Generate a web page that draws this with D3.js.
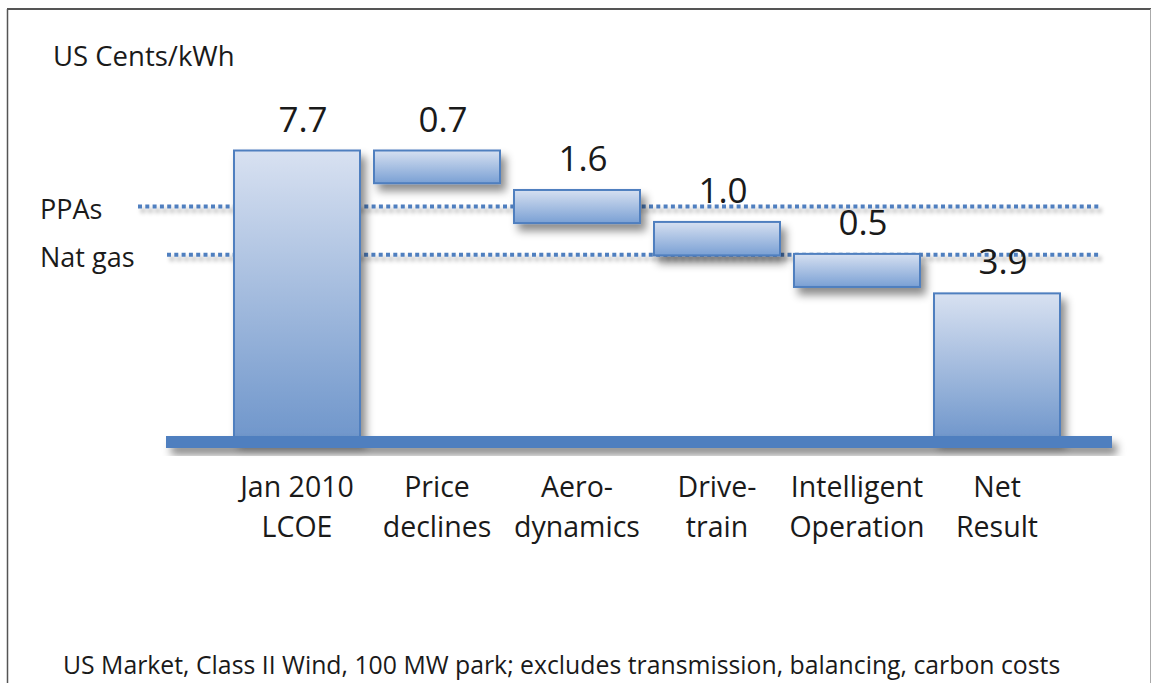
<!DOCTYPE html>
<html>
<head>
<meta charset="utf-8">
<script src="https://cdn.jsdelivr.net/npm/d3@7"></script>
<style>
  body { margin: 0; background: #fff; }
  text { font-family: "Open Sans", "Noto Sans", sans-serif; fill: #1a1a1a; }
</style>
</head>
<body>
<div id="chart"></div>
<script>
// categories (two-line labels)
var categories = ["Jan 2010\nLCOE", "Price\ndeclines", "Aero-\ndynamics", "Drive-\ntrain", "Intelligent\nOperation", "Net\nResult"];
// value labels printed over each bar
var valueLabels = ["7.7", "0.7", "1.6", "1.0", "0.5", "3.9"];
// bar extents in US cents/kWh, as drawn in the picture
var barTop    = [7.7, 7.7, 6.65, 5.8, 4.95, 3.9];
var barBottom = [0,   6.83, 5.77, 4.91, 4.07, 0];
// reference levels
var refNames  = ["PPAs", "Nat gas"];
var refValues = [6.21, 4.93];

var unitLabel = "US Cents/kWh";
var footnote = "US Market, Class II Wind, 100 MW park; excludes transmission, balancing, carbon costs";

var W = 1151, H = 683;
var blue = "#4f7fbf";

var svg = d3.select("#chart").append("svg")
    .attr("width", W).attr("height", H);

var defs = svg.append("defs");

// drop shadow for boxes
var f = defs.append("filter").attr("id", "shadow")
    .attr("x", "-20%").attr("y", "-40%").attr("width", "150%").attr("height", "200%");
f.append("feDropShadow")
    .attr("dx", 5).attr("dy", 7).attr("stdDeviation", 4)
    .attr("flood-color", "#000").attr("flood-opacity", 0.45);

// lines have a zero-height bbox, so use user space for their shadow
var fl = defs.append("filter").attr("id", "lineShadow")
    .attr("filterUnits", "userSpaceOnUse")
    .attr("x", 0).attr("y", 0).attr("width", W).attr("height", H);
fl.append("feDropShadow")
    .attr("dx", 3).attr("dy", 4).attr("stdDeviation", 2)
    .attr("flood-color", "#000").attr("flood-opacity", 0.35);

// bar gradients
var g1 = defs.append("linearGradient").attr("id", "tallGrad")
    .attr("x1", 0).attr("y1", 0).attr("x2", 0).attr("y2", 1);
g1.append("stop").attr("offset", "0%").attr("stop-color", "#d8e1f1");
g1.append("stop").attr("offset", "100%").attr("stop-color", "#6f96cb");

var g2 = defs.append("linearGradient").attr("id", "stepGrad")
    .attr("x1", 0).attr("y1", 0).attr("x2", 0).attr("y2", 1);
g2.append("stop").attr("offset", "0%").attr("stop-color", "#d6e0f1");
g2.append("stop").attr("offset", "100%").attr("stop-color", "#7aa0d4");

// frame
svg.append("line").attr("x1", 7).attr("x2", W).attr("y1", 9).attr("y2", 9)
    .attr("stroke", "#555").attr("stroke-width", 2);
svg.append("line").attr("x1", 7.5).attr("x2", 7.5).attr("y1", 9).attr("y2", H)
    .attr("stroke", "#555").attr("stroke-width", 1.5);
svg.append("line").attr("x1", W - 0.5).attr("x2", W - 0.5).attr("y1", 9).attr("y2", H)
    .attr("stroke", "#aaa").attr("stroke-width", 1);

// scales
var x = d3.scaleBand()
    .domain(categories)
    .range([227, 1067])
    .paddingInner(0.1)
    .paddingOuter(0.05);

var y = d3.scaleLinear()
    .domain([0, 7.7])
    .range([440, 150.5]);

var data = categories.map(function(c, i) {
  return { cat: c, top: barTop[i], bottom: barBottom[i], label: valueLabels[i], full: barBottom[i] === 0 };
});

// reference dotted lines (behind bars)
var refStart = [138, 167];
refValues.forEach(function(v, i) {
  svg.append("line")
      .attr("x1", refStart[i]).attr("x2", 1101)
      .attr("y1", y(v)).attr("y2", y(v))
      .attr("stroke", blue).attr("stroke-width", 4)
      .attr("stroke-dasharray", "4,3.3")
      .attr("filter", "url(#lineShadow)");
  svg.append("text")
      .attr("x", 40).attr("y", y(v) + 12)
      .attr("font-size", 27)
      .text(refNames[i]);
});

// bars
svg.selectAll("rect.bar")
  .data(data)
  .enter().append("rect")
    .attr("class", "bar")
    .attr("x", function(d) { return x(d.cat); })
    .attr("width", x.bandwidth())
    .attr("y", function(d) { return y(d.top); })
    .attr("height", function(d) { return y(d.bottom) - y(d.top); })
    .attr("fill", function(d) { return d.full ? "url(#tallGrad)" : "url(#stepGrad)"; })
    .attr("stroke", blue)
    .attr("stroke-width", 2)
    .attr("filter", "url(#shadow)");

// baseline
svg.append("rect")
    .attr("x", 166).attr("width", 946)
    .attr("y", y(0) - 4).attr("height", 12)
    .attr("fill", blue)
    .attr("filter", "url(#shadow)");

// value labels
svg.selectAll("text.val")
  .data(data)
  .enter().append("text")
    .attr("class", "val")
    .attr("x", function(d) { return x(d.cat) + x.bandwidth() / 2 + 6; })
    .attr("y", function(d) { return y(d.top) - 19; })
    .attr("text-anchor", "middle")
    .attr("font-size", 35)
    .text(function(d) { return d.label; });

// category labels
var xAxis = svg.append("g");
data.forEach(function(d) {
  var t = xAxis.append("text")
      .attr("x", x(d.cat) + x.bandwidth() / 2)
      .attr("y", 497)
      .attr("text-anchor", "middle")
      .attr("font-size", 28.5);
  d.cat.split("\n").forEach(function(line, j) {
    t.append("tspan")
        .attr("x", x(d.cat) + x.bandwidth() / 2)
        .attr("dy", j === 0 ? 0 : 40)
        .text(line);
  });
});

// unit label
svg.append("text")
    .attr("x", 53).attr("y", 66)
    .attr("font-size", 27.5)
    .text(unitLabel);

// footnote
svg.append("text")
    .attr("x", 63).attr("y", 674)
    .attr("font-size", 24.8)
    .text(footnote);
</script>
</body>
</html>
